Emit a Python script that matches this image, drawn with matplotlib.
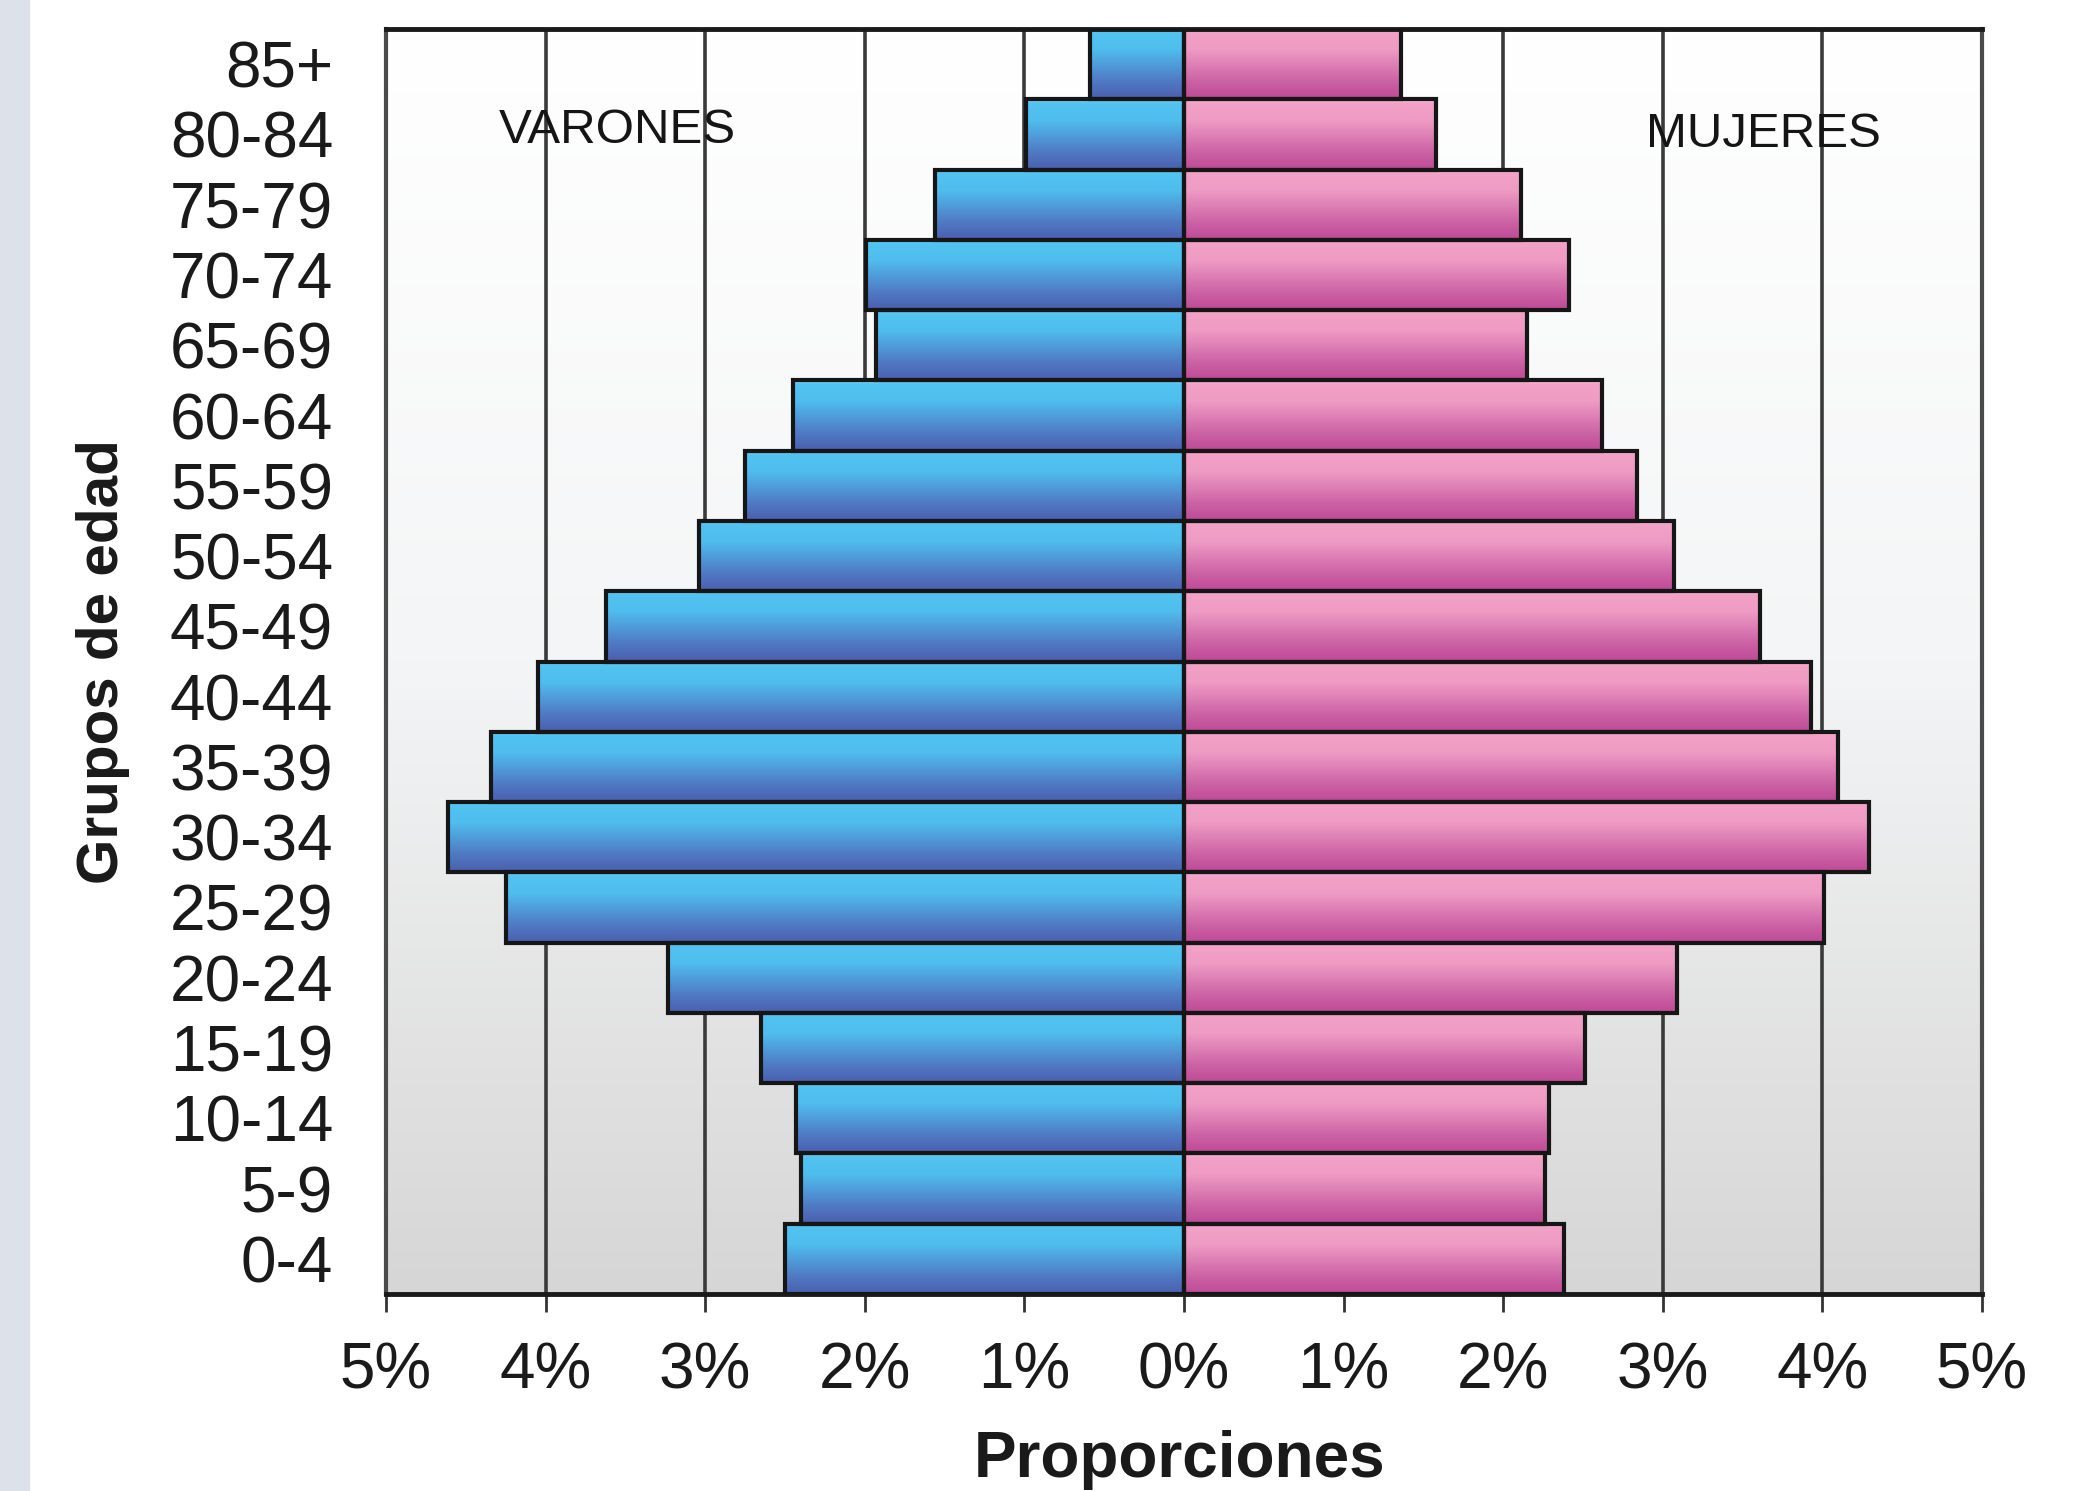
import matplotlib
matplotlib.use('Agg')
import matplotlib.pyplot as plt
import numpy as np
from matplotlib.colors import LinearSegmentedColormap
from matplotlib.patches import Rectangle

plt.rcParams['font.family'] = ['Liberation Sans', 'DejaVu Sans']

grupos = ["0-4", "5-9", "10-14", "15-19", "20-24", "25-29", "30-34", "35-39",
          "40-44", "45-49", "50-54", "55-59", "60-64", "65-69", "70-74",
          "75-79", "80-84", "85+"]
varones = [2.50, 2.40, 2.43, 2.65, 3.23, 4.25, 4.61, 4.34, 4.05, 3.62,
           3.04, 2.75, 2.45, 1.93, 1.99, 1.56, 0.99, 0.59]
mujeres = [2.38, 2.26, 2.29, 2.51, 3.09, 4.01, 4.29, 4.10, 3.93, 3.61,
           3.07, 2.84, 2.62, 2.15, 2.41, 2.11, 1.58, 1.36]
ticks = [-5, -4, -3, -2, -1, 0, 1, 2, 3, 4, 5]

W, H = 2074, 1491
fig = plt.figure(figsize=(W / 100, H / 100), dpi=100)
fig.patches.append(Rectangle((0, 0), 29 / W, 1, transform=fig.transFigure,
                             color='#dde2ea', zorder=0))
ax = fig.add_axes([386 / W, 1 - 1294 / H, 1596 / W, 1265 / H])

# fondo degradado (blanco arriba, gris abajo)
bg = LinearSegmentedColormap.from_list('bg', ['#ffffff', '#f4f5f6', '#d6d6d6'])
grad = np.linspace(0, 1, 256).reshape(-1, 1)
ax.imshow(grad, cmap=bg, extent=(0, 1, 0, 1), transform=ax.transAxes,
          aspect='auto', zorder=0)

for t in ticks[1:-1]:
    ax.axvline(t, color='#3a3a3a', lw=2.6, zorder=1)

azul = LinearSegmentedColormap.from_list(
    'azul', [(0, '#7fd3f4'), (0.06, '#52c4f1'), (0.3, '#4fbdee'),
             (0.75, '#5079c4'), (1, '#4a5fae')])
rosa = LinearSegmentedColormap.from_list(
    'rosa', [(0, '#f8c2dc'), (0.06, '#f3a1c7'), (0.3, '#ef9bc4'),
             (0.75, '#cc62a5'), (1, '#bf4996')])

y = np.arange(len(grupos))
bars_v = ax.barh(y, [-v for v in varones], height=1.0, facecolor='none',
                 edgecolor='#161616', lw=3, zorder=3)
bars_m = ax.barh(y, mujeres, height=1.0, facecolor='none',
                 edgecolor='#161616', lw=3, zorder=3)

for bars, cmap in ((bars_v, azul), (bars_m, rosa)):
    for b in bars:
        x0, y0 = b.get_x(), b.get_y()
        x1, y1 = x0 + b.get_width(), y0 + b.get_height()
        ax.imshow(grad, cmap=cmap, extent=(min(x0, x1), max(x0, x1), y0, y1),
                  aspect='auto', zorder=2, interpolation='bilinear')

ax.set_xlim(-5, 5)
ax.set_ylim(-0.5, len(grupos) - 0.5)

ax.set_xticks(ticks)
ax.set_xticklabels([f"{abs(t)}%" for t in ticks])
ax.set_yticks(y)
ax.set_yticklabels(grupos)
ax.tick_params(axis='x', length=13, width=2, color='#333333', pad=21,
               labelsize=46, labelcolor='#1a1a1a')
ax.tick_params(axis='y', length=0, pad=38, labelsize=46, labelcolor='#1a1a1a')

for s in ('top', 'bottom'):
    ax.spines[s].set_color('#1a1a1a')
    ax.spines[s].set_linewidth(3.5)
for s in ('left', 'right'):
    ax.spines[s].set_color('#4a4a4a')
    ax.spines[s].set_linewidth(3)

ax.text(-3.55, 16.05, "VARONES", fontsize=35.5, ha='center', va='center',
        color='#151515', zorder=4)
ax.text(3.63, 16.0, "MUJERES", fontsize=35.5, ha='center', va='center',
        color='#151515', zorder=4)

fig.text(103 / W, 1 - 662 / H, "Grupos de edad", rotation=90, fontsize=42,
         fontweight='bold', ha='center', va='center', color='#1a1a1a')
fig.text(1180 / W, 1 - 1430 / H, "Proporciones", fontsize=46,
         fontweight='bold', ha='center', va='top', color='#1a1a1a')

fig.savefig('out.png', dpi=100)
